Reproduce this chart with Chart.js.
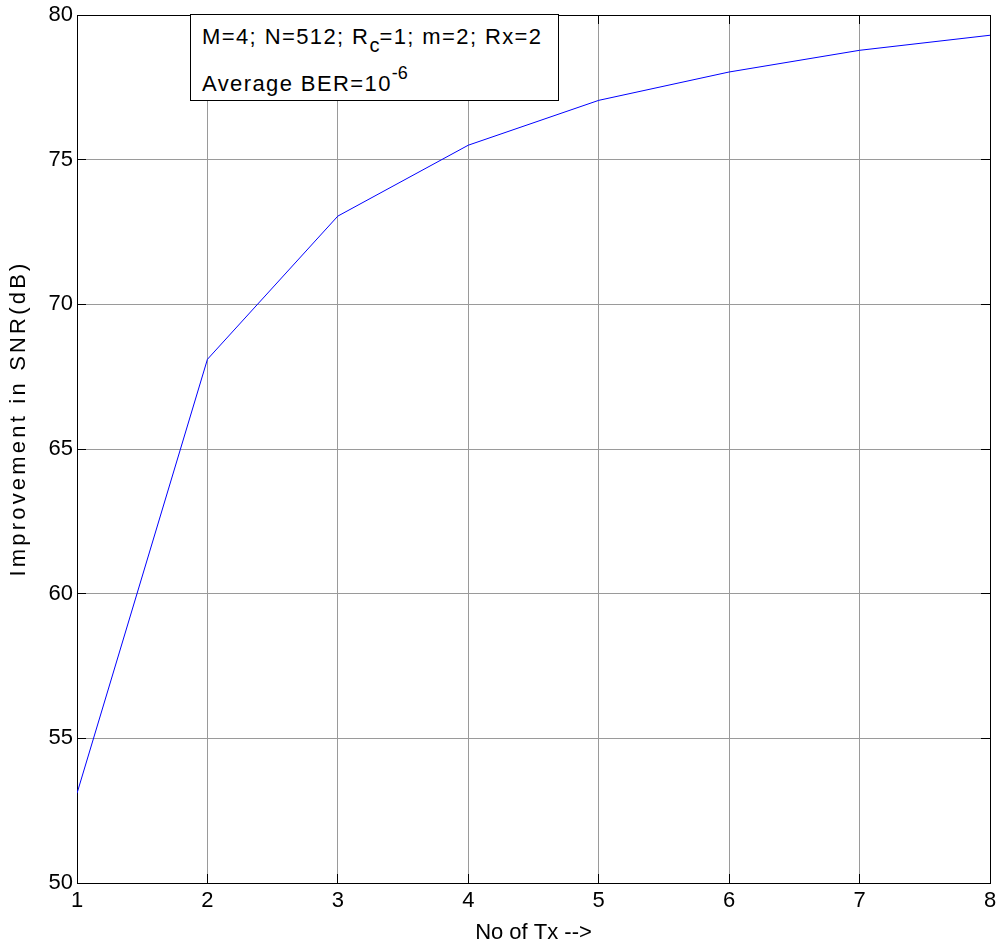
<!DOCTYPE html>
<html>
<head>
<meta charset="utf-8">
<script src="https://cdn.jsdelivr.net/npm/chart.js@4.4.1/dist/chart.umd.min.js"></script>
<style>
  html, body { margin: 0; padding: 0; background: #fff; }
  #wrap { position: relative; width: 999px; height: 946px; }
  #legendBox {
    position: absolute; left: 190px; top: 14px; width: 369px; height: 87px;
    box-sizing: border-box; border: 1px solid #000; background: #fff;
    font-family: "Liberation Sans", Arial, sans-serif; font-size: 22px; color: #000;
    letter-spacing: 1.4px; white-space: nowrap;
  }
  .ln { position: absolute; left: 11px; line-height: 22px; height: 22px; }
  .sub { font-size: 20px; position: relative; top: 8px; letter-spacing: 0; }
  .sup { font-size: 18px; position: relative; top: -12px; letter-spacing: 0; }
</style>
</head>
<body>
<div id="wrap">
  <canvas id="c" width="999" height="946"></canvas>
  <div id="legendBox">
    <div class="ln" style="top:11px">M=4; N=512; R<span class="sub">c</span>=1; m=2; Rx=2</div>
    <div class="ln" style="top:58px">Average BER=10<span class="sup">-6</span></div>
  </div>
</div>
<script>
// ---- data ----
const txCounts = [1, 2, 3, 4, 5, 6, 7, 8];
const snrImprovement = [53.1, 68.1, 73.05, 75.5, 77.05, 78.03, 78.78, 79.3];
const xTickValues = [1, 2, 3, 4, 5, 6, 7, 8];
const yTickValues = [50, 55, 60, 65, 70, 75, 80];
const xTitle = 'No of Tx -->';
const yTitle = 'Improvement in SNR(dB)';

const FONT = '"Liberation Sans", Arial, sans-serif';
const points = txCounts.map((x, i) => ({ x: x, y: snrImprovement[i] }));

function patchTitle(scale) {
  if (scale._patchedTitle) return;
  const orig = scale.drawTitle;
  scale.drawTitle = function () {
    const ctx = this.ctx;
    ctx.save();
    ctx.letterSpacing = '3.2px';
    ctx.translate(0, -30.5);
    orig.call(this);
    ctx.restore();
  };
  scale._patchedTitle = true;
}
function zeroPad(s) {
  s.paddingTop = 0; s.paddingBottom = 0; s.paddingLeft = 0; s.paddingRight = 0;
}

new Chart(document.getElementById('c'), {
  type: 'line',
  data: {
    datasets: [{
      data: points,
      borderColor: '#0000ff',
      borderWidth: 1,
      pointRadius: 0,
      fill: false,
      tension: 0
    }]
  },
  options: {
    responsive: false,
    devicePixelRatio: 1,
    animation: false,
    layout: { padding: { top: 15, right: 9, left: 0, bottom: 0 } },
    plugins: { legend: { display: false }, tooltip: { enabled: false } },
    scales: {
      x: {
        type: 'linear', position: 'bottom', min: 1, max: 8,
        afterBuildTicks: s => { s.ticks = xTickValues.map(v => ({ value: v })); },
        afterFit: s => { s.height = 63; zeroPad(s); },
        grid: { color: '#9a9a9a', lineWidth: 1, tickColor: '#000', tickLength: -9, drawTicks: true },
        border: { display: true, color: '#000', width: 1 },
        ticks: { color: '#000', font: { family: FONT, size: 22 }, padding: 13.8, maxRotation: 0, autoSkip: false },
        title: { display: true, text: xTitle, color: '#000', font: { family: FONT, size: 22 }, padding: { top: 0, bottom: 0.3 } }
      },
      y: {
        type: 'linear', position: 'left', min: 50, max: 80,
        afterBuildTicks: s => { s.ticks = yTickValues.map(v => ({ value: v })); },
        afterFit: s => { s.width = 77; zeroPad(s); patchTitle(s); },
        grid: { color: '#9a9a9a', lineWidth: 1, tickColor: '#000', tickLength: -9, drawTicks: true },
        border: { display: true, color: '#000', width: 1 },
        ticks: { color: '#000', font: { family: FONT, size: 22 }, padding: 13 },
        title: { display: true, text: yTitle, color: '#000', font: { family: FONT, size: 22 }, padding: { top: 5.8, bottom: 0 } }
      },
      x2: {
        type: 'linear', position: 'top', min: 1, max: 8,
        afterBuildTicks: s => { s.ticks = xTickValues.map(v => ({ value: v })); },
        afterFit: s => { s.height = 0; zeroPad(s); },
        grid: { drawOnChartArea: false, drawTicks: true, tickLength: -9, tickColor: '#000' },
        border: { display: true, color: '#000', width: 1 },
        ticks: { display: false }
      },
      y2: {
        type: 'linear', position: 'right', min: 50, max: 80,
        afterBuildTicks: s => { s.ticks = yTickValues.map(v => ({ value: v })); },
        afterFit: s => { s.width = 0; zeroPad(s); },
        grid: { drawOnChartArea: false, drawTicks: true, tickLength: -9, tickColor: '#000' },
        border: { display: true, color: '#000', width: 1 },
        ticks: { display: false }
      }
    }
  }
});
</script>
</body>
</html>
